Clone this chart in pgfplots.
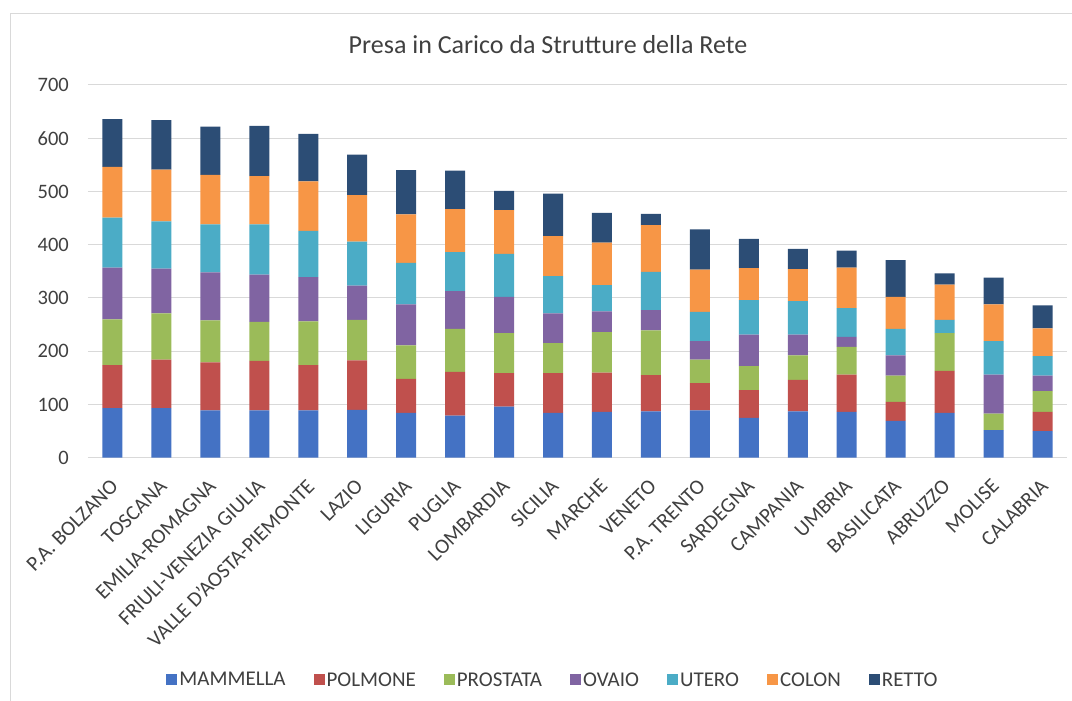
\documentclass[border=0pt]{standalone}
\usepackage{fontspec}
\setmainfont{Carlito}
\usepackage{pgfplots}
\usepackage{pgfplotstable}
\pgfplotsset{compat=1.18}
\definecolor{cMam}{HTML}{4472C4}
\definecolor{cPol}{HTML}{C0504D}
\definecolor{cPro}{HTML}{9BBB59}
\definecolor{cOva}{HTML}{8064A2}
\definecolor{cUte}{HTML}{4BACC6}
\definecolor{cCol}{HTML}{F79646}
\definecolor{cRet}{HTML}{2C4D75}
\definecolor{textc}{HTML}{404040}
\definecolor{gridc}{HTML}{D9D9D9}
\pgfplotstableread{
x MAM POL PRO OVA UTE COL RET
0  93 81 86 97 94 95 90
1  93 91 87 84 89 97 93
2  89 90 79 90 90 93 91
3  89 93 73 89 94 91 94
4  89 85 82 83 87 93 89
5  90 93 76 64 83 87 76
6  84 64 63 77 78 91 83
7  79 82 81 71 73 81 72
8  96 63 75 68 81 82 36
9  84 75 56 56 70 75 80
10 86 74 76 39 49 80 56
11 87 68 84 38 72 88 21
12 89 51 44 35 55 79 76
13 75 52 45 59 65 60 55
14 87 59 46 39 63 60 38
15 86 70 52 19 54 76 32
16 69 36 49 38 50 60 69
17 84 79 71 0 25 66 21
18 52 0 31 73 63 69 50
19 50 36 39 29 37 52 43
}\data
\begin{document}
\begin{tikzpicture}[x=1pt,y=1pt]
\useasboundingbox (0,0) rectangle (1072,701);
\draw[gridc, line width=1pt] (10,0) -- (10,687) -- (1072,687);
\node[font=\fontsize{26}{30}\selectfont, text=textc] at (548,656) {Presa in Carico da Strutture della Rete};
\begin{axis}[
  at={(88pt,243.3pt)}, anchor=south west,
  scale only axis, width=979pt, height=372.7pt,
  ybar stacked, bar width=20pt,
  xmin=-0.5, xmax=19.5, ymin=0, ymax=700,
  enlargelimits=false,
  ytick={0,100,...,700},
  xtick={0,...,19},
  xticklabels={P.A. BOLZANO,TOSCANA,EMILIA-ROMAGNA,FRIULI-VENEZIA GIULIA,VALLE D'AOSTA-PIEMONTE,LAZIO,LIGURIA,PUGLIA,LOMBARDIA,SICILIA,MARCHE,VENETO,P.A. TRENTO,SARDEGNA,CAMPANIA,UMBRIA,BASILICATA,ABRUZZO,MOLISE,CALABRIA},
  axis lines*=left,
  y axis line style={draw=none},
  x axis line style={draw=gridc, line width=1pt},
  major tick length=0pt,
  ymajorgrids, grid style={gridc, line width=1pt},
  /pgf/number format/assume math mode=true,
  yticklabel style={font=\fontsize{20.5}{24}\selectfont, text=textc, inner sep=0pt, anchor=east, xshift=-19pt},
  xticklabel style={font=\fontsize{21}{25}\selectfont, text=textc, inner sep=0pt, xshift=-3pt, yshift=-20pt, rotate=45, anchor=north east},
  legend style={at={(0.475,-0.5965)}, anchor=center, legend columns=-1, draw=none,
     font=\fontsize{21}{25}\selectfont, text=textc,
     /tikz/every even column/.append style={column sep=26pt}},
  legend image code/.code={\fill[#1] (0pt,-4.5pt) rectangle (11pt,6.5pt);},
  every axis plot/.append style={draw=none},
]
\addplot[fill=cMam] table[x=x,y=MAM]{\data};
\addplot[fill=cPol] table[x=x,y=POL]{\data};
\addplot[fill=cPro] table[x=x,y=PRO]{\data};
\addplot[fill=cOva] table[x=x,y=OVA]{\data};
\addplot[fill=cUte] table[x=x,y=UTE]{\data};
\addplot[fill=cCol] table[x=x,y=COL]{\data};
\addplot[fill=cRet] table[x=x,y=RET]{\data};
\legend{MAMMELLA,POLMONE,PROSTATA,OVAIO,UTERO,COLON,RETTO}
\end{axis}
\end{tikzpicture}
\end{document}
